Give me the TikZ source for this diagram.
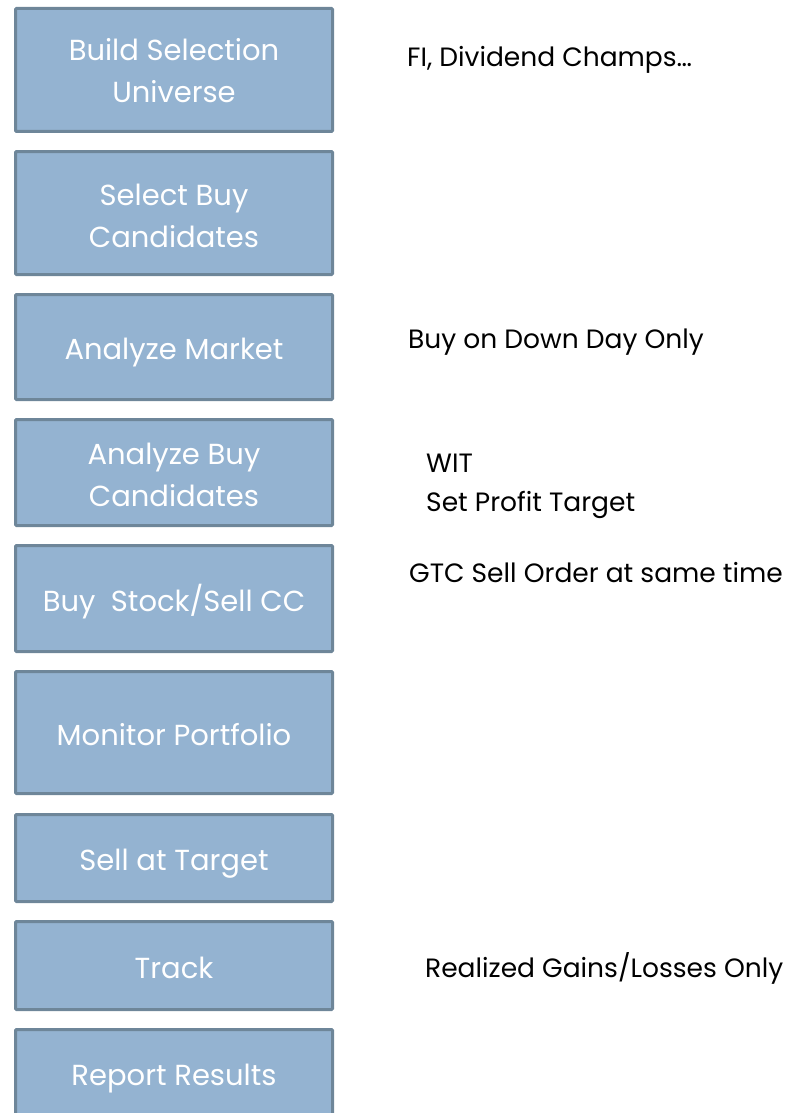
\documentclass[tikz,border=0pt]{standalone}
\usepackage{fontspec}
\setmainfont{Poppins}
\begin{document}
\begin{tikzpicture}[x=1pt,y=-1pt,
  stepbox/.style={draw=boxline,fill=boxfill,line width=3pt,rounded corners=1pt},
  boxtext/.style={text=white,font=\fontsize{29}{42}\selectfont,align=center,inner sep=0pt,anchor=base},
  note/.style={text=black,font=\fontsize{26.5}{39}\selectfont,anchor=base west,inner sep=0pt,align=left}]
\definecolor{boxfill}{HTML}{94B3D1}
\definecolor{boxline}{HTML}{6E8699}
\useasboundingbox (0,0) rectangle (787,1113);
\clip (0,0) rectangle (787,1113);
% boxes
\draw[stepbox] (15.5,8.5) rectangle (332.5,131.5);
\node[boxtext] (b1) at (174,103) {Build Selection\\Universe};
\draw[stepbox] (15.5,151.5) rectangle (332.5,274.5);
\node[boxtext] (b2) at (174,247) {Select Buy\\Candidates};
\draw[stepbox] (15.5,294.5) rectangle (332.5,399.5);
\node[boxtext] (b3) at (174,359) {Analyze Market};
\draw[stepbox] (15.5,419.5) rectangle (332.5,525.5);
\node[boxtext] (b4) at (174,506) {Analyze Buy\\Candidates};
\draw[stepbox] (15.5,545.5) rectangle (332.5,651.5);
\node[boxtext] (b5) at (174,611) {Buy~~Stock/Sell CC};
\draw[stepbox] (15.5,671.5) rectangle (332.5,793.5);
\node[boxtext] (b6) at (174,745) {Monitor Portfolio};
\draw[stepbox] (15.5,814.5) rectangle (332.5,901.5);
\node[boxtext] (b7) at (174,870) {Sell at Target};
\draw[stepbox] (15.5,921.5) rectangle (332.5,1009.5);
\node[boxtext] (b8) at (174,978) {Track};
\draw[stepbox] (15.5,1029.5) rectangle (332.5,1130);
\node[boxtext] (b9) at (174,1085) {Report Results};
% notes
\node[note] (n1) at (407,67) {FI, Dividend Champs…};
\node[note] (n3) at (408,348) {Buy on Down Day Only};
\node[note] (n4) at (426,511) {WIT\\Set Profit Target};
\node[note] (n5) at (409,582) {GTC Sell Order at same time};
\node[note] (n8) at (425,977) {Realized Gains/Losses Only};
\end{tikzpicture}
\end{document}
